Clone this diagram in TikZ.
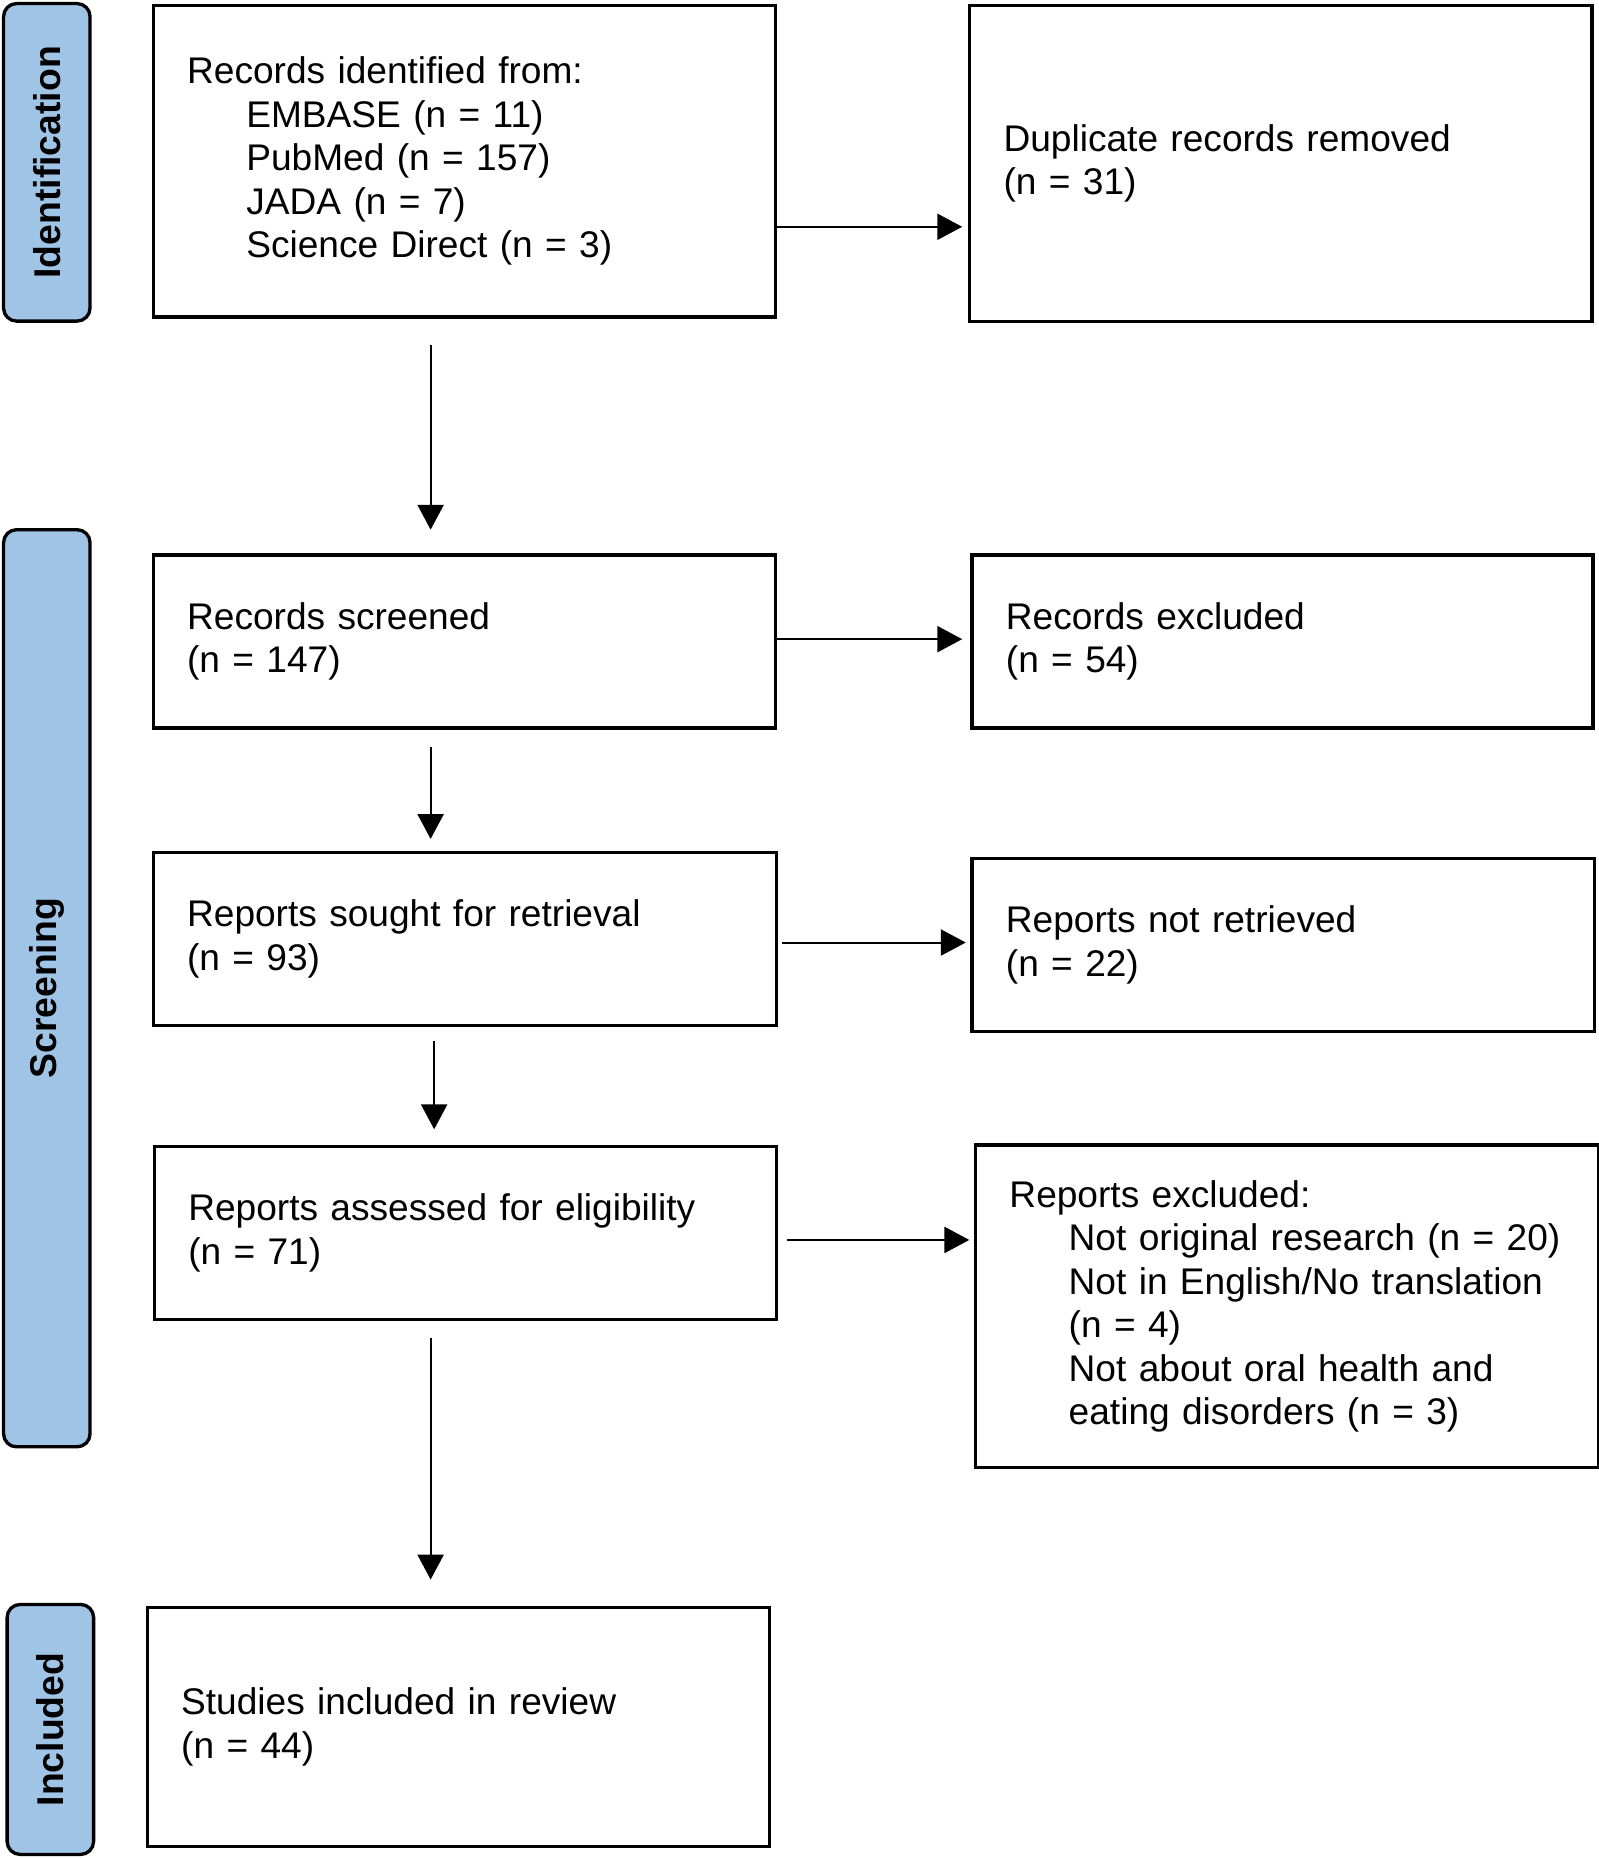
\documentclass[tikz,border=0pt]{standalone}
\usepackage{fontspec}
\setmainfont{Liberation Sans}
\usetikzlibrary{arrows.meta}
\definecolor{phaseblue}{RGB}{160,196,230}
\begin{document}
\begin{tikzpicture}[x=1pt,y=1pt,
  box/.style={draw, line width=2.8pt, anchor=north west, inner xsep=28.5pt, inner ysep=0pt,
    align=left, font=\fontsize{31.3}{36.7}\selectfont},
  phase/.style={draw, line width=2.8pt, fill=phaseblue, rounded corners=11pt, rotate=90,
    inner sep=0pt, font=\fontsize{31.5}{36}\selectfont\bfseries},
  arr/.style={line width=1.7pt, -{Triangle[length=21pt,width=22pt]}}]
\useasboundingbox (0,0) rectangle (1349,-1568);
\fill[white] (0,0) rectangle (1349,-1568);

% phase labels
\node[phase, minimum width=268pt, minimum height=73pt] (pid) at (39.5,-137) {Identification};
\node[phase, minimum width=774pt, minimum height=73pt] (psc) at (39.5,-834) {Screening};
\node[phase, minimum width=211pt, minimum height=73pt] (pin) at (42.5,-1459.5) {Included};

% boxes
\node[box, text width=468pt, minimum height=263pt] (b1) at (128,-3) {Records identified from:\\
\hspace*{50pt}\mbox{EMBASE (n = 11)}\\
\hspace*{50pt}\mbox{PubMed (n = 157)}\\
\hspace*{50pt}\mbox{JADA (n = 7)}\\
\hspace*{50pt}\mbox{Science Direct (n = 3)}};
\node[box, text width=468pt, minimum height=267pt] (b2) at (817,-3) {Duplicate records removed\\(n = 31)};
\node[box, text width=468pt, minimum height=146pt] (b3) at (128,-467) {Records screened\\(n = 147)};
\node[box, text width=467pt, minimum height=146pt] (b4) at (819,-467) {Records excluded\\(n = 54)};
\node[box, text width=469pt, minimum height=146pt] (b5) at (128,-718) {Reports sought for retrieval\\(n = 93)};
\node[box, text width=468pt, minimum height=146pt] (b6) at (819,-723) {Reports not retrieved\\(n = 22)};
\node[box, text width=468pt, minimum height=146pt] (b7) at (129,-966) {\mbox{Reports assessed for eligibility}\\(n = 71)};
\node[box, text width=469pt, minimum height=272pt] (b8) at (822,-965) {Reports excluded:\\
\hspace*{50pt}\mbox{Not original research (n = 20)}\\
\hspace*{50pt}\mbox{Not in English/No translation}\\
\hspace*{50pt}\mbox{(n = 4)}\\
\hspace*{50pt}\mbox{Not about oral health and}\\
\hspace*{50pt}\mbox{eating disorders (n = 3)}};
\node[box, text width=468pt, minimum height=202pt] (b9) at (123,-1355) {Studies included in review\\(n = 44)};

% vertical arrows
\draw[arr] ([xshift=-28.5pt,yshift=-22pt]b1.south) -- ([xshift=-28.5pt,yshift=20pt]b3.north);
\draw[arr] ([xshift=-28.5pt,yshift=-15pt]b3.south) -- ([xshift=-29pt,yshift=10pt]b5.north);
\draw[arr] ([xshift=-26pt,yshift=-12pt]b5.south) -- ([xshift=-26.5pt,yshift=13pt]b7.north);
\draw[arr] ([xshift=-29.5pt,yshift=-14pt]b7.south) -- ([xshift=-23.5pt,yshift=22pt]b9.north);

% horizontal arrows
\draw[arr] ([yshift=-55.5pt]b1.east) -- ([xshift=-5pt,yshift=-53.5pt]b2.west);
\draw[arr] ([yshift=2pt]b3.east) -- ([xshift=-7pt,yshift=2pt]b4.west);
\draw[arr] ([xshift=3pt,yshift=-3pt]b5.east) -- ([xshift=-4pt,yshift=2pt]b6.west);
\draw[arr] ([xshift=7pt,yshift=-6pt]b7.east) -- ([xshift=-4pt,yshift=56pt]b8.west);
\end{tikzpicture}
\end{document}
